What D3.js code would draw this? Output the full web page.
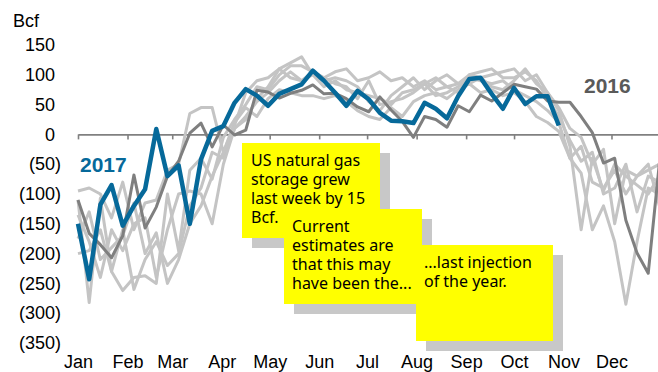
<!DOCTYPE html>
<html>
<head>
<meta charset="utf-8">
<script src="https://cdn.jsdelivr.net/npm/d3@7"></script>
<style>
  html, body { margin: 0; padding: 0; background: #fff; }
  svg { display: block; }
  .lbl { font-family: "Liberation Sans", Arial, sans-serif; font-size: 18px; fill: #000; }
  .note { font-family: "Comic Sans MS", "Noto Sans", sans-serif; font-size: 16px; fill: #000; }
</style>
</head>
<body>
<svg id="chart" width="658" height="372"></svg>
<script>
// Weekly net change in US natural gas storage, Bcf (negative = withdrawal)
const months = ["Jan","Feb","Mar","Apr","May","Jun","Jul","Aug","Sep","Oct","Nov","Dec"];
const yTicks = [150, 100, 50, 0, -50, -100, -150, -200, -250, -300, -350];

const s2017 = [-150, -243, -118, -85, -153, -120, -92, 9, -70, -52, -150, -42, 6,
  14, 53, 76, 65, 48, 68, 76, 84, 107, 90, 70, 48, 73, 59, 36, 23, 22, 19,
  53, 43, 27, 64, 93, 95, 68, 43, 78, 51, 64, 64, 15];

const s2016 = [-110, -166, -185, -207, -170, -68, -157, -122, -70, -45, 2, 19, -21,
  16, -1, 7, 74, 71, 61, 69, 74, 83, 68, 69, 60, 46, 38, 63, 41, 22, -5,
  30, 25, 12, 48, 38, 66, 56, 70, 84, 80, 76, 56, 54, 54, 30, 3, -48, -40,
  -144, -199, -233, -48];

// Earlier years, drawn in light grey
const s2015 = [-175, -130, -210, -190, -170, -115, -200, -165, -250, -210, -150, -120, -70,
  -30, 15, 70, 90, 95, 110, 120, 130, 100, 80, 90, 75, 70,
  65, 60, 50, 70, 75, 85, 95, 80, 70, 100, 95, 80, 75,
  90, 110, 85, 70, 45, 10, -5, -50, -25, -150, -60, -70, -50, -120];
const s2014 = [-110, -282, -107, -230, -262, -240, -237, -250, -100, -195, -60, -40, -75,
  -5, 25, 50, 80, 75, 100, 115, 115, 105, 95, 105, 110, 90,
  95, 105, 90, 95, 80, 90, 75, 80, 85, 85, 95, 100, 105,
  110, 90, 100, 70, 40, -20, -160, -40, -95, -50, -70, -85, -100, -70];
const s2013 = [-135, -180, -240, -160, -195, -150, -140, -240, -160, -100, -95, -100, -150,
  -50, 10, 25, 60, 80, 110, 95, 90, 105, 95, 85, 80, 60,
  90, 50, 55, 60, 70, 85, 65, 70, 80, 95, 90, 85, 90,
  75, 65, 55, 40, 20, -40, -65, -160, -120, -180, -285, -180, -90, -100];
const s2012 = [-95, -90, -100, -140, -80, -160, -115, -110, -60, -50, 35, 45, 45,
  -30, 20, 45, 30, 60, 75, 70, 65, 65, 60, 65, 55, 40,
  30, 25, 45, 30, 55, 65, 70, 60, 75, 85, 70, 75, 65,
  70, 55, 30, 20, 5, -40, -20, -80, -90, -60, -100, -70, -60, -50];
const s2011 = [-200, -195, -160, -230, -160, -260, -210, -180, -220, -200, -120, -90, -30,
  -40, 10, 30, 55, 70, 90, 105, 90, 100, 90, 95, 90, 80,
  55, 40, 65, 80, 95, 75, 90, 100, 85, 100, 105, 110, 95,
  95, 105, 90, 60, 30, -10, -45, -30, -100, -90, -50, -130, -70, -80];

const svg = d3.select("#chart");

const x = d3.scaleUtc()
  .domain([new Date(Date.UTC(2017, 0, 1)), new Date(Date.UTC(2018, 0, 1))])
  .range([78, 661]);
const y = d3.scaleLinear().domain([-350, 150]).range([343, 45]);

const monthStarts = d3.utcMonth.range(new Date(Date.UTC(2017, 0, 1)), new Date(Date.UTC(2018, 0, 1)));

const weekDate = i => new Date(Date.UTC(2017, 0, 1 + 7 * i));
const line = d3.line()
  .x((d, i) => x(weekDate(i)))
  .y(d => y(d));

// zero line with monthly ticks hanging below it
const zeroAxis = svg.append("g")
  .attr("transform", `translate(0,${y(0)})`)
  .call(d3.axisBottom(x).tickValues(monthStarts).tickSize(5).tickFormat("").tickSizeOuter(0));
zeroAxis.select(".domain").attr("stroke", "#808080").attr("stroke-width", 1.6);
zeroAxis.selectAll(".tick line").attr("stroke", "#808080").attr("stroke-width", 1.6);

// month names along the bottom
const monthAxis = svg.append("g")
  .attr("transform", "translate(0,355)")
  .call(d3.axisBottom(x).tickValues(monthStarts).tickSize(0).tickPadding(0)
    .tickFormat(d => months[d.getUTCMonth()]));
monthAxis.select(".domain").remove();
monthAxis.selectAll("text").attr("class", "lbl").attr("fill", "#000");

// value labels, negatives in parentheses
const yAxis = svg.append("g")
  .call(d3.axisLeft(y).tickValues(yTicks).tickSize(0).tickPadding(0)
    .tickFormat(v => v < 0 ? `(${-v})` : `${v}`));
yAxis.select(".domain").remove();
yAxis.selectAll("text")
  .attr("class", "lbl")
  .attr("fill", "#000")
  .attr("text-anchor", "end")
  .attr("x", d => d < 0 ? 61 : 55);

svg.append("text").attr("class", "lbl").attr("x", 13).attr("y", 27).text("Bcf");

// lines: older years first, then 2016, then 2017 on top
const olderYears = [s2011, s2012, s2013, s2014, s2015];
svg.append("g").selectAll("path").data(olderYears).join("path")
  .attr("d", line)
  .attr("fill", "none")
  .attr("stroke", "#c4c4c4")
  .attr("stroke-width", 3)
  .attr("stroke-linejoin", "round");

svg.append("path").datum(s2016)
  .attr("d", line)
  .attr("fill", "none")
  .attr("stroke", "#7f7f7f")
  .attr("stroke-width", 3)
  .attr("stroke-linejoin", "round");

svg.append("path").datum(s2017)
  .attr("d", line)
  .attr("fill", "none")
  .attr("stroke", "#06699a")
  .attr("stroke-width", 4.5)
  .attr("stroke-linejoin", "round");

svg.append("text").attr("x", 80).attr("y", 172)
  .attr("font-family", "Liberation Sans, Arial, sans-serif")
  .attr("font-size", 21).attr("font-weight", "bold").attr("fill", "#06699a")
  .text("2017");
svg.append("text").attr("x", 584).attr("y", 93)
  .attr("font-family", "Liberation Sans, Arial, sans-serif")
  .attr("font-size", 21).attr("font-weight", "bold").attr("fill", "#5a5a5a")
  .text("2016");

// sticky-note callouts with drop shadows
const notes = [
  { x: 242, y: 143, w: 138, h: 95, tx: 251, ty: 166, lines: ["US natural gas", "storage grew", "last week by 15", "Bcf."] },
  { x: 284, y: 209, w: 138, h: 95, tx: 292, ty: 232, lines: ["Current", "estimates are", "that this may", "have been the..."] },
  { x: 416, y: 245, w: 137, h: 96, tx: 424, ty: 268, lines: ["...last injection", "of the year."] }
];
notes.forEach(n => {
  const g = svg.append("g");
  g.append("rect").attr("x", n.x + 10).attr("y", n.y + 10).attr("width", n.w).attr("height", n.h)
    .attr("fill", "#c8c8c8");
  g.append("rect").attr("x", n.x).attr("y", n.y).attr("width", n.w).attr("height", n.h)
    .attr("fill", "#ffff00");
  g.append("text").attr("class", "note")
    .selectAll("tspan").data(n.lines).join("tspan")
    .attr("x", n.tx).attr("y", (d, i) => n.ty + i * 19)
    .text(d => d);
});
</script>
</body>
</html>
